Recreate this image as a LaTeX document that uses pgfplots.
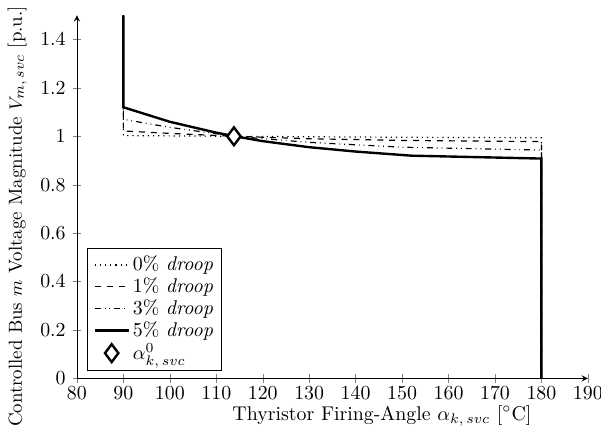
\documentclass[border=0pt]{standalone}
\usepackage{pgfplots}
\pgfplotsset{compat=1.18}
\begin{document}
\begin{tikzpicture}
\begin{axis}[
    scale only axis,
    width=257pt, height=182.6pt,
    axis lines=left,
    xmin=80, xmax=190,
    ymin=0, ymax=1.5,
    xtick={80,90,...,190},
    ytick={0,0.2,...,1.4},
    xticklabel style={yshift=1.5pt},
    xlabel={Thyristor Firing-Angle $\alpha_{k,\,svc}$ [$^\circ$C]},
    ylabel={Controlled Bus $m$ Voltage Magnitude $V_{m,\,svc}$ [p.u.]},
    every axis x label/.append style={at={(ticklabel cs:0.597)}, yshift=4pt},
    every axis y label/.append style={at={(ticklabel cs:0.446)},
        font=\fontsize{9.5}{11}\selectfont},
    legend style={at={(0.02,0.02)}, anchor=south west, row sep=-2pt,
        nodes={inner xsep=1.5pt}},
    legend cell align=left,
]
% 0% droop
\addplot[black, dotted, semithick] coordinates {
    (90,1.5)(90,1.003)(114,1.0)(150,0.996)(180,0.994)(180,0)
};
\addlegendentry{0\% \textit{droop}}
% 1% droop
\addplot[black, dashed, semithick] coordinates {
    (90,1.5)(90,1.022)(100,1.012)(114,1.0)(130,0.99)(150,0.983)(180,0.978)(180,0)
};
\addlegendentry{1\% \textit{droop}}
% 3% droop
\addplot[black, dash dot dot, semithick] coordinates {
    (90,1.5)(90,1.07)(100,1.037)(114,1.0)(130,0.975)(150,0.955)(180,0.943)(180,0)
};
\addlegendentry{3\% \textit{droop}}
% 5% droop
\addplot[black, very thick] coordinates {
    (90,1.5)(90,1.12)(100,1.06)(110,1.015)(114,1.0)(120,0.98)(130,0.955)(140,0.937)(152,0.92)(180,0.908)(180,0)
};
\addlegendentry{5\% \textit{droop}}
% operating point
\addplot[black, only marks, mark=diamond*, mark size=4.5pt, mark options={fill=white, line width=1.2pt}] coordinates {
    (113.8,1.0)
};
\addlegendentry{$\alpha_{k,\,svc}^{0}$}
\end{axis}
\pgfresetboundingbox
\path (-38.7pt,-28.3pt) rectangle (263.6pt,190.3pt);
\end{tikzpicture}
\end{document}
